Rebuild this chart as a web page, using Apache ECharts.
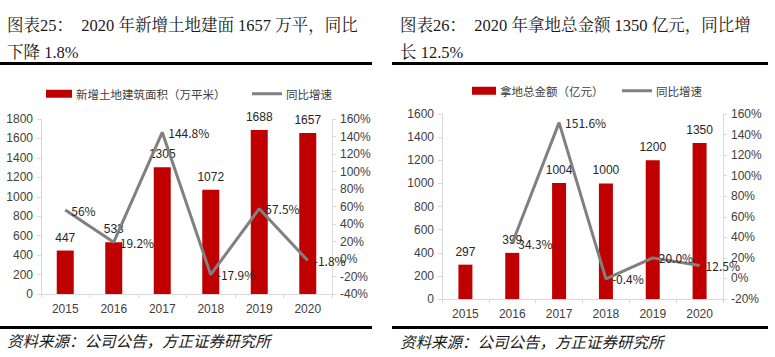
<!DOCTYPE html>
<html>
<head>
<meta charset="utf-8">
<script src="https://cdn.jsdelivr.net/npm/echarts@6/dist/echarts.min.js"></script>
<style>
html,body{margin:0;padding:0;background:#fff;}
#c{width:775px;height:357px;}
</style>
</head>
<body>
<div id="c"></div>
<script>
// ---- data ----
var years = ['2015', '2016', '2017', '2018', '2019', '2020'];
var areaValues = [447, 533, 1305, 1072, 1688, 1657];
var areaYoy = ['56', '19.2', '144.8', '-17.9', '57.5', '-1.8'];
var amountValues = [297, 399, 1004, 1000, 1200, 1350];
var amountYoy = [null, '34.3', '151.6', '-0.4', '20.0', '12.5'];

var title1a = '图表25：  2020 年新增土地建面 1657 万平，同比';
var title1b = '下降 1.8%';
var title2a = '图表26：  2020 年拿地总金额 1350 亿元，同比增';
var title2b = '长 12.5%';
var source = '资料来源：公司公告，方正证券研究所';
var name1 = '新增土地建筑面积（万平米）';
var name2 = '拿地总金额（亿元）';
var nameYoy = '同比增速';

var RED = '#c00000', GRAY = '#808080', AX = '#d9d9d9';
var sansFont = "'Liberation Sans', Arial, 'Noto Sans CJK SC', sans-serif";
var cjkFont = "'Noto Sans CJK SC', sans-serif";
var serifFont = "'Liberation Serif', 'Noto Serif CJK SC', 'Noto Sans CJK SC', serif";

function valueAxis(gi, min, max, interval, pos, suffix) {
  return {
    type: 'value', gridIndex: gi, min: min, max: max, interval: interval, position: pos,
    axisLine: {show: true, lineStyle: {color: AX, width: 1}},
    axisTick: {show: true, length: 4, lineStyle: {color: AX}},
    splitLine: {show: false},
    axisLabel: {color: '#404040', fontSize: 12, fontFamily: sansFont, margin: 8,
      formatter: function (v) { return String(v) + suffix; }}
  };
}
function catAxis(gi) {
  return {
    type: 'category', gridIndex: gi, data: years,
    axisLine: {show: true, lineStyle: {color: AX, width: 1}},
    axisTick: {show: true, length: 4, lineStyle: {color: AX}},
    axisLabel: {color: '#404040', fontSize: 12, fontFamily: sansFont, margin: 9}
  };
}
function lineLabel() {
  return {show: true, position: 'right', distance: 6, color: '#262626', fontSize: 12, fontFamily: cjkFont,
    formatter: function (p) { return p.data + '%'; }};
}
function barLabel() {
  return {show: true, position: 'top', distance: 7, color: '#262626', fontSize: 12, fontFamily: sansFont};
}
function txt(x, y, s, font, size, italic) {
  return {type: 'text', left: x, top: y, style: {text: s, fontFamily: font, fontSize: size, fill: '#1a1a1a', fontStyle: italic ? 'italic' : 'normal'}};
}
function bar(x, y, w, h) {
  return {type: 'rect', shape: {x: x, y: y, width: w, height: h}, style: {fill: '#000'}};
}
function legendItem(x, y, w, h, name) {
  return {left: x, top: y, padding: 0, itemWidth: w, itemHeight: h, itemGap: 0,
    textStyle: {fontSize: 11.5, fontFamily: cjkFont, color: '#404040', padding: [0, 0, 0, -1]},
    data: [{name: name, icon: 'rect'}]};
}

var chart = echarts.init(document.getElementById('c'), null, {renderer: 'svg'});
chart.setOption({
  animation: false,
  backgroundColor: '#fff',
  graphic: [
    txt(7, 17, title1a, serifFont, 16.5),
    txt(7, 44, title1b, serifFont, 16.5),
    txt(400, 17, title2a, serifFont, 16.5),
    txt(400, 44, title2b, serifFont, 16.5),
    bar(0, 62, 372, 3),
    bar(392, 62, 376, 3),
    bar(0, 326, 372, 3),
    bar(392, 326, 376, 3),
    txt(7, 332, source, cjkFont, 15.5, true),
    txt(400, 333, source, cjkFont, 15.5, true)
  ],
  legend: [
    legendItem(46, 88, 26, 8, name1),
    legendItem(252, 88, 30, 3, nameYoy),
    legendItem(472, 85, 24, 8, name2),
    legendItem(622, 85, 30, 3, nameYoy)
  ],
  grid: [
    {left: 41, right: 443, top: 119, bottom: 63},
    {left: 442, right: 52, top: 114, bottom: 58}
  ],
  xAxis: [catAxis(0), catAxis(1)],
  yAxis: [
    valueAxis(0, 0, 1800, 200, 'left', ''),
    valueAxis(0, -40, 160, 20, 'right', '%'),
    valueAxis(1, 0, 1600, 200, 'left', ''),
    valueAxis(1, -20, 160, 20, 'right', '%')
  ],
  series: [
    {name: name1, type: 'bar', xAxisIndex: 0, yAxisIndex: 0, data: areaValues, barWidth: 17,
      itemStyle: {color: RED}, label: barLabel()},
    {name: nameYoy, type: 'line', xAxisIndex: 0, yAxisIndex: 1, data: areaYoy, symbol: 'circle', symbolSize: 0,
      showSymbol: true, lineStyle: {color: GRAY, width: 3}, itemStyle: {color: GRAY}, label: lineLabel()},
    {name: name2, type: 'bar', xAxisIndex: 1, yAxisIndex: 2, data: amountValues, barWidth: 14,
      itemStyle: {color: RED}, label: barLabel()},
    {name: nameYoy, type: 'line', xAxisIndex: 1, yAxisIndex: 3, data: amountYoy, symbol: 'circle', symbolSize: 0,
      showSymbol: true, lineStyle: {color: GRAY, width: 3}, itemStyle: {color: GRAY}, label: lineLabel()}
  ]
});
</script>
</body>
</html>
